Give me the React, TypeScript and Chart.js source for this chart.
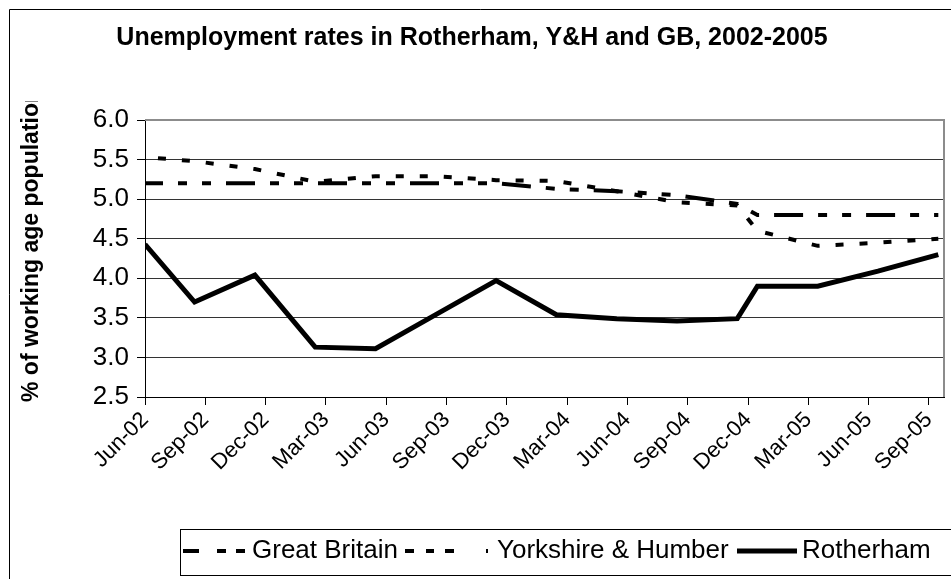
import { useEffect, useRef } from "react";
import { Chart, registerables } from "chart.js";

Chart.register(...registerables);

const observationDates = [
  "2002-06-01", "2002-08-15", "2002-11-15", "2003-02-15", "2003-05-15",
  "2003-08-15", "2003-11-15", "2004-02-15", "2004-05-15", "2004-08-15",
  "2004-11-15", "2004-12-15", "2005-03-15", "2005-06-15", "2005-09-15",
];
const greatBritain = [5.2, 5.2, 5.2, 5.2, 5.2, 5.2, 5.2, 5.13, 5.1, 5.05, 4.94, 4.8, 4.8, 4.8, 4.8];
const yorkshireHumber = [5.53, 5.48, 5.38, 5.22, 5.29, 5.29, 5.24, 5.23, 5.1, 4.96, 4.92, 4.6, 4.41, 4.45, 4.5];
const rotherham = [4.43, 3.7, 4.04, 3.13, 3.11, 3.54, 3.97, 3.54, 3.49, 3.46, 3.49, 3.9, 3.9, 4.09, 4.3];
const tickLabels = [
  "Jun-02", "Sep-02", "Dec-02", "Mar-03", "Jun-03", "Sep-03", "Dec-03",
  "Mar-04", "Jun-04", "Sep-04", "Dec-04", "Mar-05", "Jun-05", "Sep-05",
];
const seriesNames = ["Great Britain", "Yorkshire & Humber", "Rotherham"];
const chartTitle = "Unemployment rates in Rotherham, Y&H and GB, 2002-2005";
const yAxisTitle = "% of working age population";

const FONT = "Arial, 'Liberation Sans', sans-serif";

// legend layout (style only)
const legendSamples = [
  { x: 183, len: 62, dash: [16, 18, 9, 10, 9, 10], width: 4, textX: 252 },
  { x: 405, len: 85, dash: [9, 12, 8, 11, 9, 32, 2, 60], width: 4, textX: 497 },
  { x: 737, len: 60, dash: [] as number[], width: 5, textX: 802 },
];

// months since 1 Jun 2002
function monthOffset(d: string): number {
  const [y, m, day] = d.split("-").map(Number);
  return (y - 2002) * 12 + (m - 6) + (day - 1) / 30;
}

function toPoints(values: number[]) {
  return values.map((v, i) => ({ x: monthOffset(observationDates[i]), y: v }));
}

export default function App() {
  const ref = useRef<HTMLCanvasElement>(null);

  useEffect(() => {
    const canvas = ref.current;
    if (!canvas) return;

    const decor = {
      id: "decor",
      beforeDraw(chart: any) {
        const { ctx, width, height } = chart;
        ctx.save();
        ctx.fillStyle = "#fff";
        ctx.fillRect(0, 0, width, height);
        ctx.restore();
      },
      beforeDatasetsDraw(chart: any) {
        const { ctx, chartArea: a } = chart;
        ctx.save();
        ctx.strokeStyle = "#8c8c8c";
        ctx.lineWidth = 2;
        ctx.beginPath();
        ctx.moveTo(a.left, a.top);
        ctx.lineTo(a.right, a.top);
        ctx.lineTo(a.right, a.bottom);
        ctx.stroke();
        ctx.restore();
      },
      afterDraw(chart: any) {
        const { ctx, chartArea: a } = chart;
        ctx.save();
        // outer frame
        ctx.strokeStyle = "#000";
        ctx.lineWidth = 1;
        ctx.beginPath();
        ctx.moveTo(9.5, 600);
        ctx.lineTo(9.5, 9.5);
        ctx.lineTo(960, 9.5);
        ctx.stroke();

        // legend frame
        ctx.strokeRect(180.5, 529.5, 800, 46);

        // legend entries
        const y = 551;
        chart.data.datasets.forEach((ds: any, i: number) => {
          const s = legendSamples[i];
          ctx.save();
          ctx.strokeStyle = ds.borderColor;
          ctx.lineWidth = s.width;
          ctx.lineCap = "butt";
          ctx.setLineDash(s.dash);
          ctx.beginPath();
          ctx.moveTo(s.x, y);
          ctx.lineTo(s.x + s.len, y);
          ctx.stroke();
          ctx.restore();
          ctx.fillStyle = "#000";
          ctx.font = `26px ${FONT}`;
          ctx.textAlign = "left";
          ctx.textBaseline = "middle";
          ctx.fillText(ds.label, s.textX, y);
        });

        // y axis title, clipped like the original
        ctx.beginPath();
        ctx.rect(0, 101, a.left, a.bottom);
        ctx.clip();
        ctx.translate(32, a.bottom + 5);
        ctx.rotate(-Math.PI / 2);
        ctx.fillStyle = "#000";
        ctx.font = `bold 23px ${FONT}`;
        ctx.textAlign = "left";
        ctx.textBaseline = "middle";
        ctx.fillText(yAxisTitle, 0, 0);
        ctx.restore();
      },
    };

    const chart = new Chart(canvas, {
      type: "line",
      data: {
        datasets: [
          {
            label: seriesNames[0],
            data: toPoints(greatBritain),
            borderColor: "#000",
            backgroundColor: "#000",
            borderWidth: 4,
            borderDash: [29, 15, 9, 15, 9, 15],
            borderDashOffset: 11,
            borderCapStyle: "butt",
            pointRadius: 0,
            tension: 0,
          },
          {
            label: seriesNames[1],
            data: toPoints(yorkshireHumber),
            borderColor: "#000",
            backgroundColor: "#000",
            borderWidth: 4,
            borderDash: [8, 16],
            borderDashOffset: 11,
            borderCapStyle: "butt",
            pointRadius: 0,
            tension: 0,
          },
          {
            label: seriesNames[2],
            data: toPoints(rotherham),
            borderColor: "#000",
            backgroundColor: "#000",
            borderWidth: 5,
            pointRadius: 0,
            tension: 0,
          },
        ],
      },
      options: {
        animation: false,
        responsive: false,
        maintainAspectRatio: false,
        layout: { padding: { left: 0, right: 7, top: 0, bottom: 50 } },
        scales: {
          x: {
            type: "linear",
            min: 0,
            max: 39.75,
            afterFit(scale: any) {
              scale.height = 132;
            },
            border: { display: true, color: "#000", width: 1 },
            grid: {
              display: true,
              drawOnChartArea: false,
              drawTicks: true,
              tickLength: 8,
              color: "#000",
            },
            ticks: {
              stepSize: 3,
              includeBounds: false,
              autoSkip: false,
              minRotation: 45,
              maxRotation: 45,
              padding: 2,
              color: "#000",
              font: { family: FONT, size: 22 },
              callback: (v: any) => {
                const i = Math.round(Number(v) / 3);
                return tickLabels[i] ?? "";
              },
            },
          },
          y: {
            min: 2.5,
            max: 6.0,
            afterFit(scale: any) {
              scale.width = 145;
            },
            border: { display: true, color: "#000", width: 1 },
            grid: {
              color: (c: any) => (c.tick && c.tick.value === 6 ? "#8c8c8c" : "#333"),
              lineWidth: 1,
              tickLength: 8,
              tickColor: "#000",
            },
            ticks: {
              stepSize: 0.5,
              padding: 8,
              color: "#000",
              font: { family: FONT, size: 26 },
              callback: (v: any) => Number(v).toFixed(1),
            },
          },
        },
        plugins: {
          title: {
            display: true,
            text: chartTitle,
            color: "#000",
            font: { family: FONT, size: 25, weight: "bold" },
            padding: { top: 23, bottom: 67 },
          },
          legend: { display: false },
          tooltip: { enabled: false },
        },
      },
      plugins: [decor],
    } as any);

    return () => chart.destroy();
  }, []);

  return (
    <div
      style={{
        position: "fixed",
        left: 0,
        top: 0,
        width: 951,
        height: 579,
        overflow: "hidden",
        background: "#fff",
      }}
    >
      <canvas ref={ref} width={951} height={579} style={{ display: "block", width: 951, height: 579 }} />
    </div>
  );
}
